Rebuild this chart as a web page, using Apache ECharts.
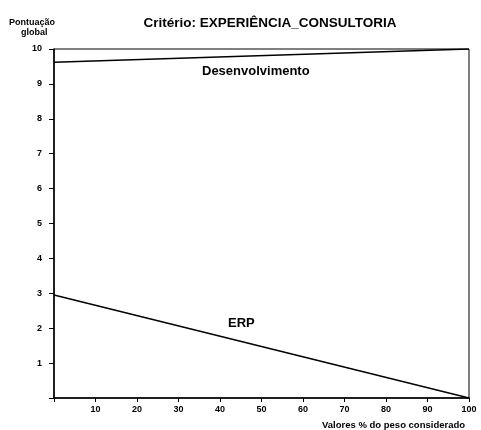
<!DOCTYPE html>
<html>
<head>
<meta charset="utf-8">
<script src="https://cdn.jsdelivr.net/npm/echarts@6/dist/echarts.min.js"></script>
<style>
  html, body { margin: 0; padding: 0; background: #fff; }
  #chart { width: 481px; height: 430px; }
</style>
</head>
<body>
<div id="chart"></div>
<script>
// pesos considerados (%) e pontuação global de cada alternativa
const pesos = [0, 100];
const desenvolvimento = [9.62, 10];
const erp = [2.95, 0];
const xTicks = [10, 20, 30, 40, 50, 60, 70, 80, 90, 100];

const font = 'Liberation Sans, Arial, sans-serif';
const chart = echarts.init(document.getElementById('chart'));

const toPairs = ys => pesos.map((x, i) => [x, ys[i]]);

chart.setOption({
  animation: false,
  backgroundColor: '#fff',
  title: {
    text: 'Critério: EXPERIÊNCIA_CONSULTORIA',
    left: 265,
    top: 11,
    textAlign: 'center',
    textStyle: { fontFamily: font, fontSize: 13.5, fontWeight: 'bold', color: '#000' }
  },
  grid: { left: 54, right: 12, top: 49, bottom: 32, show: true, borderColor: '#000', borderWidth: 1 },
  xAxis: {
    type: 'value',
    min: 0, max: 100, interval: 10,
    axisLine: { lineStyle: { color: '#000', width: 1.5 } },
    axisTick: { show: true, length: 4, lineStyle: { color: '#000' } },
    splitLine: { show: false },
    axisLabel: {
      color: '#000', fontFamily: font, fontSize: 9, fontWeight: 'bold', margin: 7,
      formatter: v => (xTicks.includes(v) ? String(v) : '')
    }
  },
  yAxis: {
    type: 'value',
    min: 0, max: 10, interval: 1,
    axisLine: { show: true, lineStyle: { color: '#000', width: 1.5 } },
    axisTick: { show: true, length: 5, lineStyle: { color: '#000' } },
    splitLine: { show: false },
    axisLabel: {
      color: '#000', fontFamily: font, fontSize: 9, fontWeight: 'bold', margin: 12,
      formatter: v => (v === 0 ? '' : String(v))
    }
  },
  graphic: [
    { type: 'text', left: 9, top: 18, style: { text: 'Pontuação', font: 'bold 9px ' + font, fill: '#000' } },
    { type: 'text', left: 21, top: 28, style: { text: 'global', font: 'bold 9px ' + font, fill: '#000' } },
    { type: 'text', left: 322, top: 420, style: { text: 'Valores % do peso considerado', font: 'bold 9.5px ' + font, fill: '#000' } },
    { type: 'text', left: 202, top: 65, style: { text: 'Desenvolvimento', font: 'bold 13px ' + font, fill: '#000' } },
    { type: 'text', left: 228, top: 317, style: { text: 'ERP', font: 'bold 13px ' + font, fill: '#000' } }
  ],
  series: [
    {
      name: 'Desenvolvimento', type: 'line', data: toPairs(desenvolvimento),
      symbol: 'none', lineStyle: { color: '#000', width: 1.5 }
    },
    {
      name: 'ERP', type: 'line', data: toPairs(erp),
      symbol: 'none', lineStyle: { color: '#000', width: 1.5 }
    }
  ]
});
</script>
</body>
</html>
